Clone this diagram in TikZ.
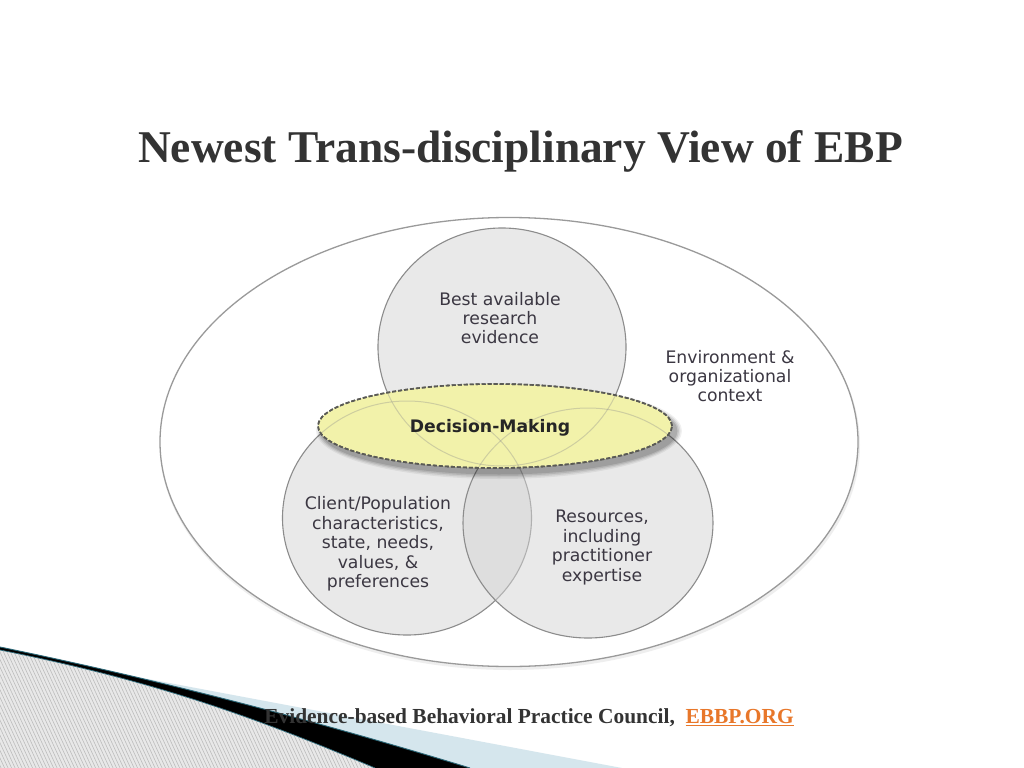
\documentclass[tikz,border=0pt]{standalone}
\usepackage{fontspec}
\setmainfont{Liberation Serif}
\newfontfamily\dvs{DejaVu Sans}
\usetikzlibrary{shapes.geometric}
\definecolor{titlec}{HTML}{333333}
\definecolor{txt}{HTML}{3B3742}
\definecolor{ebbp}{HTML}{E8772A}
\definecolor{outerc}{HTML}{9A9A9A}
\definecolor{circfill}{HTML}{D4D4D4}
\definecolor{circline}{HTML}{8C8C8C}
\definecolor{dmfill}{HTML}{F2F2AA}
\definecolor{dmline}{HTML}{5A5A55}
\definecolor{hatchbg}{HTML}{E8E8E8}
\definecolor{hatchln}{HTML}{BDBDBD}
\definecolor{lblue}{HTML}{D5E6ED}
\definecolor{tealc}{HTML}{2A6676}
\tikzset{
  circ/.style={ellipse, draw=circline, line width=1.1bp, fill=circfill, fill opacity=0.5, inner sep=0},
  lbl/.style={font=\dvs\fontsize{17.3}{19.5}\selectfont, text=txt, align=center, inner sep=0},
  dmstyle/.style={ellipse, draw=dmline, line width=1.6bp, dash pattern=on 4bp off 2bp, fill=dmfill, inner sep=0},
}
\begin{document}
\begin{tikzpicture}[x=1bp,y=-1bp]
\useasboundingbox (0,0) rectangle (1024,768);
\fill[white] (0,0) rectangle (1024,768);

% title
\node[anchor=base, font=\fontsize{45.6}{54}\selectfont\bfseries, text=titlec, inner sep=0] (title) at (520.5,162) {Newest Trans-disciplinary View of EBP};

% outer ellipse shadow + ellipse
\fill[black!25, opacity=0.25] (510,445) ellipse [x radius=350, y radius=225];
\node[ellipse, draw=outerc, line width=1.3bp, fill=white, minimum width=698bp, minimum height=449bp, inner sep=0] (env) at (509,442) {};

% three circles
\node[circ, minimum width=248bp, minimum height=238bp] (research) at (502,347) {};
\node[circ, minimum width=249bp, minimum height=234bp] (client) at (407,518) {};
\node[circ, minimum width=250bp, minimum height=230bp] (resources) at (588,523) {};

% decision-making shadow
\foreach \s/\o in {6/0.06,4.5/0.08,3/0.10,1.5/0.12}{
  \fill[black, opacity=\o] (499,431) ellipse [x radius=177+\s, y radius=42+\s];
}
\node[dmstyle, minimum width=354bp, minimum height=84bp] (dm) at (495,426) {};
% circle edges faintly visible through the yellow
\begin{scope}
  \clip (495,426) ellipse [x radius=176, y radius=41];
  \draw[circline, opacity=0.35, line width=1bp] (502,347) ellipse [x radius=124, y radius=119];
  \draw[circline, opacity=0.35, line width=1bp] (407,518) ellipse [x radius=124.5, y radius=117];
  \draw[circline, opacity=0.35, line width=1bp] (588,523) ellipse [x radius=125, y radius=115];
\end{scope}
\node[dmstyle, fill=none, minimum width=354bp, minimum height=84bp] (dmborder) at (495,426) {};

% labels
\node[lbl] (tbest) at (500,318) {Best available\\research\\evidence};
\node[lbl] (tenv) at (730,376) {Environment \&\\organizational\\context};
\node[lbl, font=\dvs\bfseries\fontsize{17.3}{19.5}\selectfont, text=black!85] (tdm) at (490,428) {Decision-Making};
\node[lbl] (tclient) at (378,544) {Client/Population\\characteristics,\\state, needs,\\values, \&\\preferences};
\node[lbl] (tres) at (602,547.5) {Resources,\\including\\practitioner\\expertise};

% bottom-left decoration
\fill[lblue] (100,670) -- (622,768) -- (0,768) -- cycle;
\fill[black] (0,647) .. controls (150,678) and (300,716) .. (470,768) -- (375,768) .. controls (250,715) and (150,680) .. (0,650) -- cycle;
\begin{scope}
  \clip (0,650) .. controls (150,680) and (250,715) .. (375,768) -- (0,768) -- cycle;
  \fill[hatchbg] (0,640) rectangle (400,768);
  \foreach \i in {-100,-96.5,...,420} \draw[hatchln, line width=0.6bp] (\i,640) -- ++(60,130);
\end{scope}
\draw[tealc, line width=0.9bp] (0,647) .. controls (150,678) and (300,716) .. (470,768);
\draw[tealc, line width=0.7bp] (0,650) .. controls (150,680) and (250,715) .. (375,768);

% footer
\node[anchor=base, font=\fontsize{21.5}{26}\selectfont\bfseries, text=titlec, inner sep=0] (footer) at (529,723) {Evidence-based Behavioral Practice Council,\ \ \textcolor{ebbp}{\underline{EBBP.ORG}}};
\end{tikzpicture}
\end{document}
